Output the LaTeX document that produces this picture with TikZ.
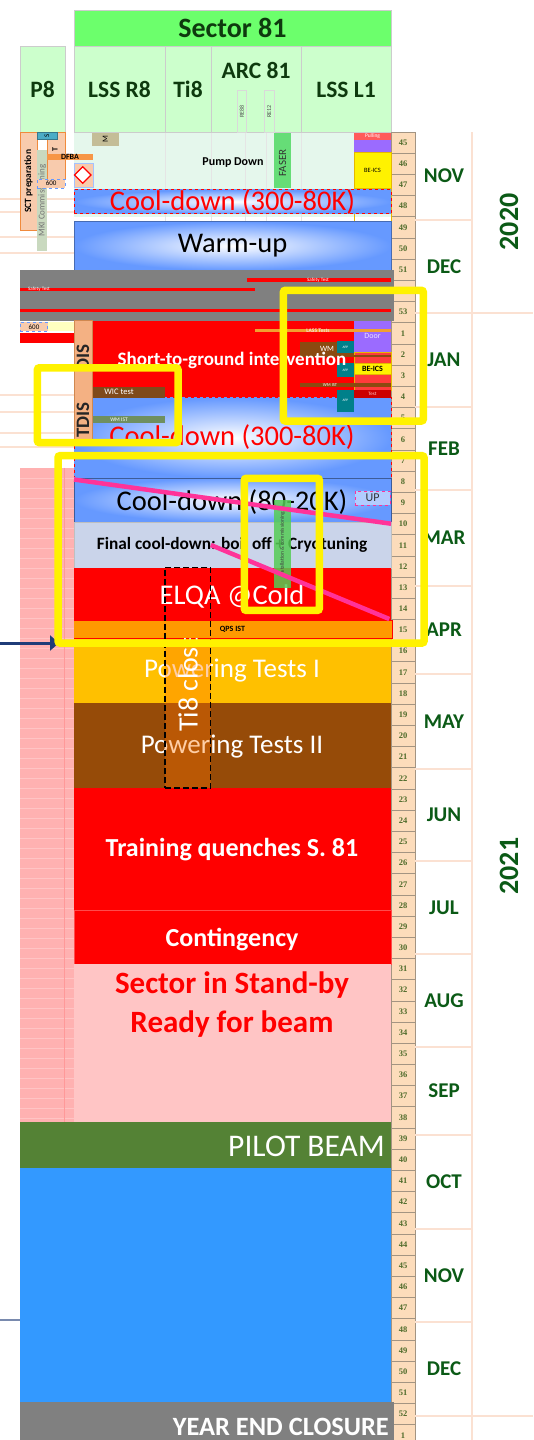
\documentclass[tikz,border=0pt]{standalone}
\usepackage{fontspec}
\setmainfont{Carlito}
\newfontfamily\weekfont{Liberation Serif}
\usetikzlibrary{arrows.meta,fit,shapes.geometric}
\pgfdeclarelayer{background}
\pgfsetlayers{background,main}
\newcommand{\fsz}[1]{\fontsize{#1}{#1}\selectfont}

\definecolor{secgreen}{HTML}{6CFF6C}
\definecolor{subgreen}{HTML}{CCFFCC}
\definecolor{hdrtext}{HTML}{0E3A0E}
\definecolor{mint}{HTML}{E5F7EC}
\definecolor{cdblue}{HTML}{6699FF}
\definecolor{wkpeach}{HTML}{FCDCBB}
\definecolor{wkline}{HTML}{A39482}
\definecolor{wktext}{HTML}{4E6B2A}
\definecolor{monthgreen}{HTML}{0B5A16}
\definecolor{monthline}{HTML}{FBE1D2}
\definecolor{hotpink}{HTML}{FF3399}
\definecolor{ptamber}{HTML}{FFC000}
\definecolor{ptbrown}{HTML}{964B08}
\definecolor{standpink}{HTML}{FFC5C5}
\definecolor{pinkcol}{HTML}{FFB1B1}
\definecolor{pilotgreen}{HTML}{548235}
\definecolor{beamblue}{HTML}{3399FF}
\definecolor{closegrey}{HTML}{808080}
\definecolor{finalcd}{HTML}{CAD4EA}
\definecolor{qpsorange}{HTML}{FF9900}
\definecolor{disorange}{HTML}{F4B183}
\definecolor{disedge}{HTML}{D08850}
\definecolor{sctorange}{HTML}{F8CBAD}
\definecolor{sctedge}{HTML}{F08A3C}
\definecolor{dfbaorange}{HTML}{F79646}
\definecolor{sblue}{HTML}{4BACC6}
\definecolor{mkigreen}{HTML}{C9D9BF}
\definecolor{mbox}{HTML}{C4BD97}
\definecolor{fasergreen}{HTML}{66DD77}
\definecolor{pulling}{HTML}{FF5B5B}
\definecolor{doorpurple}{HTML}{9B6BFF}
\definecolor{beicsedge}{HTML}{E6B800}
\definecolor{appteal}{HTML}{00808A}
\definecolor{wmbrown}{HTML}{8B4A10}
\definecolor{wicbrown}{HTML}{7F4A1A}
\definecolor{wmistgreen}{HTML}{6F8F5F}
\definecolor{lassorange}{HTML}{F0A030}
\definecolor{lightred}{HTML}{FF3B3B}
\definecolor{testred}{HTML}{CC0000}
\definecolor{paleyellow}{HTML}{FFFFC0}
\definecolor{instgreen}{HTML}{55CC55}
\definecolor{navyarrow}{HTML}{1F3C78}

\tikzstyle{box}=[inner sep=0pt,outer sep=0pt]
\tikzstyle{hdr}=[box,draw=black!20,fill=subgreen]
\tikzstyle{hdrtxt}=[inner sep=0pt,text=hdrtext,font=\fsz{23.5}\bfseries]
\tikzstyle{week}=[box,anchor=north west,minimum width=24pt,minimum height=21.19pt,fill=wkpeach,draw=wkline,line width=.6pt,text=wktext,font=\weekfont\fsz{8.5}\bfseries]
\tikzstyle{month}=[text=monthgreen,font=\fsz{21}\bfseries]
\tikzstyle{year}=[month,font=\fsz{28}\bfseries,rotate=90]
\tikzstyle{cool}=[box,inner color=white,outer color=cdblue]
\tikzstyle{big}=[inner sep=0pt,font=\fsz{28.5}]
\tikzstyle{bigb}=[inner sep=0pt,text=white,font=\fsz{26}\bfseries]
\tikzstyle{mini}=[inner sep=0pt,font=\fsz{6}]
\tikzstyle{rot}=[inner sep=0pt,rotate=90]
\tikzstyle{hilite}=[box,draw=yellow,line width=7.5pt,rounded corners=2pt]
\tikzstyle{pinkline}=[draw=hotpink,line width=4.5pt]

\begin{document}
\begin{tikzpicture}[x=1pt,y=-1pt]
    \useasboundingbox (0,0) rectangle (533,1440);
    % faint rows on the left
    \begin{pgfonlayer}{background}
        \foreach \sy in {199,212,237,253,395,412,433,447}
            \draw[monthline,line width=2pt] (0,\sy) -- (74,\sy);
    \end{pgfonlayer}
    % header
    \node[hdr,fill=secgreen,fit={(74,10) (391,46.6)}] (sector) {};
    \node[hdrtxt,font=\fsz{28}\bfseries] (sectortxt) at (sector.center) {Sector 81};
    \node[hdr,fit={(20,46.6) (65,132.6)}] (p8) {};
    \node[hdrtxt] (p8txt) at (p8.center) {P8};
    \node[hdr,fit={(74,46.6) (165,132.6)}] (lssr8) {};
    \node[hdrtxt] (lssr8txt) at (lssr8.center) {LSS R8};
    \node[hdr,fit={(165,46.6) (211,132.6)}] (ti8) {};
    \node[hdrtxt] (ti8txt) at (ti8.center) {Ti8};
    \node[hdr,fit={(211,46.6) (301,132.6)}] (arc81) {};
    \node[hdrtxt] (arctxt) at (256,70) {ARC 81};
    \node[hdr,fit={(301,46.6) (391,132.6)}] (lssl1) {};
    \node[hdrtxt] (lssl1txt) at (lssl1.center) {LSS L1};
    \node[box,draw=black!15,fit={(237,90) (246.5,132.6)}] (re88) {};
    \node[rot,font=\fsz{6},text=black!70] (re88lbl) at (re88.center) {RE88};
    \node[box,draw=black!15,fit={(264.5,90) (273.7,132.6)}] (re12) {};
    \node[rot,font=\fsz{6},text=black!70] (re12lbl) at (re12.center) {RE12};

    % weeks, months and years
    \foreach \wn [count=\r from 0] in {45,...,53}
        \node[week] (wk\r) at (391,{132+21.19*\r}) {\wn};
    \foreach \r in {9,...,61}{
        \pgfmathtruncatemacro{\wn}{mod(\r-9,52)+1}
        \node[week] (wk\r) at (391,{132+21.19*\r}) {\wn};
    }
    \foreach \ya/\yb/\mname [count=\k] in {132/220/NOV,220/313/DEC,313/407/JAN,407/490/FEB,490/586/MAR,586/674/APR,674/769/MAY,769/861/JUN,861/954/JUL,954/1047/AUG,1047/1135/SEP,1135/1229/OCT,1229/1322/NOV,1322/1416/DEC}{
        \draw[monthline,line width=1.2pt] (415,\yb) -- (472,\yb);
        \node[month] (mon\k) at (444,{(\ya+\yb)/2}) {\mname};
    }
    \draw[monthline,line width=1.2pt] (472,132) -- (472,1440);
    \draw[monthline,line width=1.2pt] (472,313) -- (533,313);
    \draw[monthline,line width=1.2pt] (472,1416) -- (533,1416);
    \node[year] (yr2020) at (509,222) {2020};
    \node[year] (yr2021) at (509,866) {2021};

    % november: pump down
    \node[box,fill=mint,fit={(74,132.6) (391,217)}] (pump) {};
    \foreach \gx in {165,211,245.5,266,301}
        \draw[black!10] (\gx,132.6) -- (\gx,270);
    \node[inner sep=0pt,font=\fsz{12}\bfseries] (pumplbl) at (233,162.5) {Pump Down};
    \node[box,fill=mbox,fit={(91.7,132.6) (119,145.7)}] (mb) {};
    \node[rot,font=\fsz{8}] (mblbl) at (mb.center) {M};
    \node[box,fill=fasergreen,fit={(273.7,132.6) (291.4,188)}] (faser) {};
    \node[rot,font=\fsz{11},text=black!80] (faserlbl) at (282.5,163) {FASER};
    \node[box,fill=pulling,fit={(354,132.6) (391,139.7)}] (pull) {};
    \node[mini,font=\fsz{5.5},text=white] (pulllbl) at (pull.center) {Pulling};
    \node[box,fill=doorpurple,fit={(354,139.7) (391,152.3)}] (purp) {};
    \node[box,fill=yellow,draw=beicsedge,line width=1pt,fit={(354,152.3) (391,188)}] (bei1) {};
    \node[mini,font=\fsz{6.5}] (bei1lbl) at (bei1.center) {BE-ICS};
    \draw[beicsedge,line width=1pt] (bei1.south west) -- (354,221);
    \draw[beicsedge,line width=1pt] (bei1.south east) -- (391,221);
    % P8 column
    \node[box,fill=sctorange,draw=sctedge,fit={(20,132.6) (37.3,230)}] (sct) {};
    \node[rot,font=\fsz{9.5}\bfseries] (sctlbl) at (sct.center) {SCT preparation};
    \node[box,fill=mkigreen,fit={(37.3,150) (47.3,251)}] (mki) {};
    \node[rot,font=\fsz{9},text=black!55] (mkilbl) at (mki.center) {MKI Commissioning};
    \node[box,fill=sctorange,draw=sctedge,fit={(47.3,132.6) (65,179)}] (tb) {};
    \node[rot,font=\fsz{8}\bfseries] (tblbl) at (55,150) {T};
    \node[box,fill=sblue,draw=sblue!70!black,fit={(37.3,132.6) (56.7,139)}] (sb) {};
    \node[rot,font=\fsz{7}] (sblbl) at (sb.center) {S};
    \node[box,fill=dfbaorange,fit={(47.3,154.3) (92.7,160)}] (dfba) {};
    \node[mini,font=\fsz{8}\bfseries] (dfbalbl) at (70,157) {DFBA};
    \node[box,fill=sctorange,draw=cdblue,dashed,fit={(37.3,179) (65,188.3)}] (six1) {};
    \node[mini,font=\fsz{7}] (six1lbl) at (six1.center) {600};
    \node[box,fill=sctorange,draw=cdblue!60,fit={(74,163.3) (92.7,186.7)}] (fb) {};
    \node[diamond,draw=red,fill=white,line width=1.2pt,minimum size=17pt,inner sep=0pt] (warn) at (82.7,175) {};

    % cool-down and warm-up
    \node[cool,draw=red,dashed,line width=1pt,fit={(74,189.7) (391,213.5)}] (cd1) {};
    \node[big,text=red] (cd1txt) at (cd1.center) {Cool-down (300-80K)};
    \node[cool,draw=cdblue!70!black,fit={(74,221.5) (391,270.2)}] (warm) {};
    \node[big] (warmtxt) at (warm.center) {Warm-up};

    % year end stop with safety tests
    \node[box,fill=closegrey,fit={(20,270.2) (393.7,320.5)}] (shut) {};
    \node[box,fill=red,fit={(246.5,278.3) (391,281.5)}] (safe1) {};
    \node[mini,font=\fsz{5},text=white] (safe1lbl) at (318,279.9) {Safety Test};
    \node[box,fill=red,fit={(20,287.6) (255,290.8)}] (safe2) {};
    \node[mini,font=\fsz{5},text=white] (safe2lbl) at (39,289.2) {Safety Test};
    \node[box,fill=red,fit={(20,308.8) (391,312.4)}] (safe3) {};
    \node[box,fill=paleyellow,fit={(47.6,322) (74,331.4)}] (yband) {};
    \node[box,fill=sctorange,draw=cdblue,dashed,fit={(20.4,322) (47.6,331.4)}] (six2) {};
    \node[mini,font=\fsz{7}] (six2lbl) at (six2.center) {600};
    \node[box,fill=red,fit={(20,333) (74,343.3)}] (redbar) {};

    % january: short-to-ground
    \node[box,fill=red,fit={(91.8,320.5) (391,397.7)}] (stg) {};
    \node[cool,draw=red,dashed,line width=1pt,fit={(74,397.7) (391,477.8)}] (cd2) {};
    \node[box,fill=disorange,draw=disedge,fit={(74,320.5) (91.8,440)}] (dis) {};
    \node[rot,font=\fsz{19}\bfseries,text=black!85] (dislbl) at (83,357.5) {DIS};
    \node[rot,font=\fsz{19}\bfseries,text=black!85] (tdislbl) at (83,420) {TDIS};
    \node[box,fill=doorpurple,fit={(354,320.5) (391,352.3)}] (door) {};
    \node[mini,font=\fsz{8},text=white!80!doorpurple] (doorlbl) at (door.center) {Door};
    \node[box,fill=lassorange,fit={(255,329) (391,332)}] (lass) {};
    \node[mini,font=\fsz{5.5}\bfseries,text=white!85!red] (lasslbl) at (318,330.5) {LASS Tests};
    \node[box,fill=lightred,draw=beicsedge,fit={(354,352.3) (391,390)}] (lred) {};
    \node[box,fill=wmbrown,fit={(300,341.7) (354,355.7)}] (wm) {};
    \node[mini,font=\fsz{8},text=white] (wmlbl) at (327,348.7) {WM};
    \node[box,fill=wmbrown,fit={(300,354.5) (391,356.5)}] (wmline) {};
    \node[box,fill=yellow,draw=beicsedge,fit={(354,363.3) (391,374.3)}] (bei2) {};
    \node[mini,font=\fsz{8}\bfseries] (bei2lbl) at (bei2.center) {BE-ICS};
    \node[box,fill=wmbrown,fit={(300,383.3) (391,386.7)}] (wmist2) {};
    \node[mini,font=\fsz{4.5},text=white] (wmist2lbl) at (330,385) {WM IST};
    \node[box,fill=testred,fit={(354,390) (391,398.3)}] (test) {};
    \node[mini,font=\fsz{5},text=white!80!red] (testlbl) at (test.center) {Test};
    \foreach \ay/\by [count=\k] in {341/353.3,363.3/376.7,390/411.7}{
        \node[box,fill=appteal,fit={(336.7,\ay) (354,\by)}] (app\k) {};
        \node[mini,font=\fsz{3.5},text=white] (app\k lbl) at (app\k.center) {APP};
    }
    \node[box,fill=wicbrown,fit={(92.5,386.5) (165,397.7)}] (wic) {};
    \node[mini,font=\fsz{8.5},text=white] (wiclbl) at (119,392) {WIC test};
    \node[box,fill=wmistgreen,fit={(92.5,416.4) (165,422.5)}] (wmist1) {};
    \node[mini,font=\fsz{5.5},text=white] (wmist1lbl) at (119,419.5) {WM IST};
    \node[inner sep=0pt,text=white,font=\fsz{19}\bfseries] (stgtxt) at (232,360.3) {Short-to-ground intervention};
    \node[big,text=red] (cd2txt) at (232,437) {Cool-down (300-80K)};

    % february to april
    \node[cool,draw=cdblue!60!black,fit={(74,477.8) (391,522)}] (cd3) {};
    \node[big] (cd3txt) at (232,501.6) {Cool-down (80-20K)};
    \node[box,fill=cdblue!50,draw=hotpink,dashed,fit={(355.3,490.7) (390,505)}] (up) {};
    \node[mini,font=\fsz{12},text=black!80] (uplbl) at (up.center) {UP};
    \node[box,fill=finalcd,draw=black!25,fit={(74,522) (391,567.9)}] (final) {};
    \node[inner sep=0pt,font=\fsz{17.3}\bfseries] (finaltxt) at (232,545) {Final cool-down: boil off + Cryotuning};
    \node[box,fill=red,fit={(74,567.9) (391,620.6)}] (elqa) {};
    \node[big,text=white] (elqatxt) at (232,596.8) {ELQA @Cold};
    \node[box,fill=ptamber,fit={(74,638.5) (391,703.1)}] (pt1) {};
    \node[big,text=white,font=\fsz{27}] (pt1txt) at (232,670.8) {Powering Tests I};
    \node[box,fill=ptbrown,fit={(74,703.1) (391,788)}] (pt2) {};
    \node[big,text=white,font=\fsz{27}] (pt2txt) at (232,747) {Powering Tests II};
    \node[box,fill=qpsorange,draw=red,line width=1.5pt,fit={(72.4,620.6) (392.7,638.5)}] (qps) {};
    \node[mini,font=\fsz{8}\bfseries] (qpslbl) at (qps.center) {QPS IST};

    % may to december
    \node[box,fill=red,fit={(74,788) (391,910.7)}] (train) {};
    \node[bigb] (traintxt) at (232,850) {Training quenches S. 81};
    \node[box,fill=red,draw=red!70!white,line width=.6pt,fit={(74,910.7) (391,964.3)}] (cont) {};
    \node[bigb] (conttxt) at (232,939.3) {Contingency};
    \node[box,fill=standpink,fit={(74,964.3) (391,1122)}] (stand) {};
    \node[inner sep=0pt,align=center,text=red,font=\fontsize{31}{39}\selectfont\bfseries] (standtxt) at (232,1005) {Sector in Stand-by\\Ready for beam};
    \node[box,fill=pinkcol,fit={(20,467.6) (74,1122)}] (pinkc) {};
    \foreach \sy in {478,488,...,1118}
        \draw[white,opacity=.25] (20,\sy) -- (74,\sy);
    \draw[red!40] (64,467.6) -- (64,1122);
    \node[box,fill=pilotgreen,fit={(20,1122) (391,1168)}] (pilot) {};
    \node[big,text=white,font=\fsz{31.5},anchor=east] (pilottxt) at (385,1146) {PILOT BEAM};
    \node[box,fill=beamblue,fit={(20,1168) (391,1402)}] (beam) {};
    \node[box,fill=closegrey,fit={(20,1402) (393.7,1440)}] (yec) {};
    \node[bigb,font=\fsz{26.4}\bfseries,anchor=east] (yectxt) at (389,1427) {YEAR END CLOSURE};

    % Ti8 closure and installation
    \fill[orange!90!red,opacity=.35] (165,638.5) rectangle (210.8,788);
    \begin{scope}
        \clip (165,638.5) rectangle (210.8,788);
        \node[rot,anchor=west,text=white,font=\fsz{28}] (ti8cl) at (188,732) {Ti8 closed};
    \end{scope}
    \node[box,draw=black,dash pattern=on 6pt off 3pt,line width=1.3pt,fit={(165,567.2) (210.8,788)}] (ti8box) {};
    \node[box,fill=instgreen,fill opacity=.85,fit={(273.7,500) (291.4,588.3)}] (inst) {};
    \node[rot,font=\fsz{5.5},text=black!75] (instlbl) at (inst.center) {Installation \& commissioning};
    \coordinate (pk1a) at (74,479.5);
    \coordinate (pk1b) at (391,523.7);
    \coordinate (pk2a) at (210.8,545);
    \coordinate (pk2b) at (389.3,619);
    \path[pinkline] (pk1a) -- (pk1b);
    \path[pinkline] (pk2a) -- (pk2b);

    % arrow and marker line on the left
    \coordinate (arrtail) at (0,643);
    \coordinate (arrhead) at (59,643);
    \draw[navyarrow,line width=3pt,-{Triangle[length=9pt,width=15pt]}] (arrtail) -- (arrhead);
    \coordinate (mkA) at (0,1320);
    \coordinate (mkB) at (20,1320);
    \draw[navyarrow!60!white,line width=2pt] (mkA) -- (mkB);

    % yellow highlights
    \node[hilite,fit={(283.4,290.3) (423.3,421)}] (hl1) {};
    \node[hilite,fit={(37.4,367.8) (178,442.6)}] (hl2) {};
    \node[hilite,fit={(58,455.7) (424,643)}] (hl3) {};
    \node[hilite,fit={(244.3,478.3) (319.3,610.4)}] (hl4) {};
\end{tikzpicture}
\end{document}
